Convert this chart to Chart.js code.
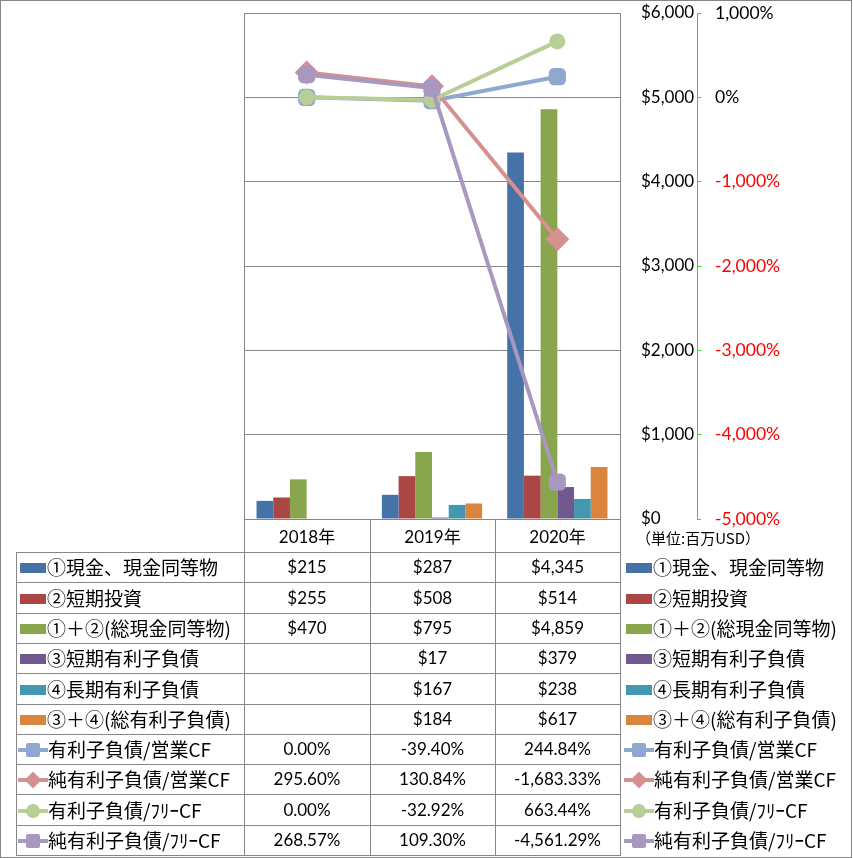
<!DOCTYPE html>
<html><head><meta charset="utf-8">
<script src="https://cdn.jsdelivr.net/npm/chart.js@4"></script>
<style>
html,body{margin:0;padding:0;background:#fff;}
#wrap{position:relative;width:853px;height:858px;overflow:hidden;background:#fff;}
canvas{position:absolute;left:0;top:0;}
.ln{position:absolute;background:#868686;}
.t{position:absolute;white-space:nowrap;line-height:22px;height:22px;color:#000;}
.jp{font-family:"Noto Sans CJK JP","Noto Sans",sans-serif;font-size:19px;}
.num{font-family:Lato,"Noto Sans CJK JP",sans-serif;font-size:17px;text-align:center;}
.key{position:absolute;}
#frame{position:absolute;left:0;top:0;width:850px;height:856px;border:1px solid #868686;pointer-events:none;}
</style></head><body>
<div id="wrap"><canvas id="c" width="853" height="858"></canvas><div id="tbl"></div><div id="frame"></div></div>
<script>
// ---- data ----
const categories = ['2018年', '2019年', '2020年'];
const cashEquivalents = [215, 287, 4345];
const shortTermInvest = [255, 508, 514];
const totalCash = [470, 795, 4859];
const shortTermDebt = [null, 17, 379];
const longTermDebt = [null, 167, 238];
const totalDebt = [null, 184, 617];
const debtToOpCF = [0.00, -39.40, 244.84];
const netDebtToOpCF = [295.60, 130.84, -1683.33];
const debtToFreeCF = [0.00, -32.92, 663.44];
const netDebtToFreeCF = [268.57, 109.30, -4561.29];
const barNames = ['①現金、現金同等物', '②短期投資', '①＋②(総現金同等物)', '③短期有利子負債', '④長期有利子負債', '③＋④(総有利子負債)'];
const lineNames = ['有利子負債/営業CF', '純有利子負債/営業CF', '有利子負債/ﾌﾘｰCF', '純有利子負債/ﾌﾘｰCF'];
const unitLabel = '（単位:百万USD）';

const barColors = ['#4572A7', '#AA4643', '#89A54E', '#71588F', '#4198AF', '#DB843D'];
const lineColors = ['#8FA8D0', '#D49190', '#B8CE95', '#A897BF'];
const lineStyles = ['rectRounded', 'rectRot', 'circle', 'rectRounded'];
const lineRadius = [10, 12, 8, 10];
const barData = [cashEquivalents, shortTermInvest, totalCash, shortTermDebt, longTermDebt, totalDebt];
const lineData = [debtToOpCF, netDebtToOpCF, debtToFreeCF, netDebtToFreeCF];

const datasets = [];
lineData.forEach((d, i) => datasets.push({
  type: 'line', label: lineNames[i], data: d, yAxisID: 'y1',
  borderColor: lineColors[i], backgroundColor: lineColors[i], borderWidth: 4,
  pointStyle: lineStyles[i], pointRadius: lineRadius[i], pointBorderWidth: 0,
  pointBackgroundColor: lineColors[i], order: 4 - i, tension: 0
}));
barData.forEach((d, i) => datasets.push({
  type: 'bar', label: barNames[i], data: d, yAxisID: 'y',
  backgroundColor: barColors[i], borderWidth: 0,
  categoryPercentage: 0.8, barPercentage: 1.0, order: 10
}));

const fmtUSD = v => '$' + Number(v).toLocaleString('en-US');
const fmtPct = v => Number(v).toLocaleString('en-US', {minimumFractionDigits: 2, maximumFractionDigits: 2}) + '%';

const plotBorder = {
  id: 'plotBorder',
  afterDraw(chart) {
    const a = chart.chartArea, ctx = chart.ctx;
    ctx.save();
    ctx.strokeStyle = '#868686'; ctx.lineWidth = 1;
    ctx.beginPath();
    ctx.moveTo(Math.round(a.left) + 0.5, a.top); ctx.lineTo(Math.round(a.left) + 0.5, a.bottom);
    ctx.moveTo(Math.round(a.right) + 0.5, a.top); ctx.lineTo(Math.round(a.right) + 0.5, a.bottom);
    ctx.stroke();
    ctx.restore();
  }
};

Chart.defaults.font.family = 'Lato, "Noto Sans CJK JP", sans-serif';
Chart.defaults.font.size = 17;
Chart.defaults.color = '#000';

const noOverflow = w => s => { s.width = w; s.paddingTop = 0; s.paddingBottom = 0; };

new Chart(document.getElementById('c'), {
  data: {labels: categories, datasets},
  options: {
    responsive: false, animation: false,
    layout: {padding: {left: 244, top: 13, right: 0, bottom: 339}},
    plugins: {legend: {display: false}, tooltip: {enabled: false}},
    scales: {
      x: {display: false, offset: true},
      y: {
        position: 'right', weight: 0, min: 0, max: 6000,
        afterFit: noOverflow(77),
        ticks: {stepSize: 1000, callback: v => fmtUSD(v), crossAlign: 'near', padding: 21},
        grid: {color: '#868686', drawTicks: false, drawOnChartArea: true},
        border: {display: false}
      },
      y1: {
        position: 'right', weight: 1, min: -5000, max: 1000,
        afterFit: noOverflow(156),
        ticks: {stepSize: 1000, callback: v => fmtPct(v).replace('.00', ''), padding: 14,
          font: {size: 17.5},
          color: c => (c.tick && c.tick.value < 0) ? '#FF0000' : '#000'},
        grid: {drawOnChartArea: false, color: '#1EE01E', tickLength: 4, drawTicks: true},
        border: {display: true, color: '#1EE01E', dash: [3, 2], width: 1}
      }
    }
  },
  plugins: [plotBorder]
});

// ---- data table (HTML) ----
const tbl = document.getElementById('tbl');
const colX = [16, 244, 370, 495, 620];
const headTop = 519;
const rowTop = i => 552 + Math.round(i * 30.3);
function add(cls, style, text) {
  const d = document.createElement('div');
  d.className = cls; Object.assign(d.style, style);
  if (text !== undefined) d.textContent = text;
  tbl.appendChild(d); return d;
}
add('ln', {left: colX[1] + 'px', top: headTop + 'px', width: (colX[4] - colX[1] + 1) + 'px', height: '1px'});
for (let i = 0; i <= 10; i++) add('ln', {left: colX[0] + 'px', top: rowTop(i) + 'px', width: (colX[4] - colX[0] + 1) + 'px', height: '1px'});
add('ln', {left: colX[0] + 'px', top: rowTop(0) + 'px', width: '1px', height: (rowTop(10) - rowTop(0) + 1) + 'px'});
for (let c = 1; c <= 4; c++) add('ln', {left: colX[c] + 'px', top: headTop + 'px', width: '1px', height: (rowTop(10) - headTop + 1) + 'px'});
categories.forEach((c, j) => add('t num', {left: colX[j + 1] + 'px', width: (colX[j + 2] - colX[j + 1]) + 'px', top: (Math.round((headTop + rowTop(0)) / 2) - 10) + 'px'}, c));
add('t jp', {left: '636px', top: '527px', fontSize: '15px'}, unitLabel);

function barKey(x, yc, color) {
  add('key', {left: x + 'px', top: (yc - 5) + 'px', width: '26px', height: '10px', background: color});
}
function lineKey(x, yc, color, style) {
  add('key', {left: x + 'px', top: (yc - 2) + 'px', width: '30px', height: '4px', background: color});
  const m = {position: 'absolute', background: color};
  if (style === 'rectRot') Object.assign(m, {left: (x + 9) + 'px', top: (yc - 6) + 'px', width: '12px', height: '12px', transform: 'rotate(45deg)', borderRadius: '1px'});
  else if (style === 'circle') Object.assign(m, {left: (x + 8) + 'px', top: (yc - 7) + 'px', width: '14px', height: '14px', borderRadius: '50%'});
  else Object.assign(m, {left: (x + 8) + 'px', top: (yc - 7) + 'px', width: '14px', height: '14px', borderRadius: '2px'});
  add('key', m);
}
const rows = [];
barData.forEach((d, i) => rows.push({name: barNames[i], vals: d.map(v => v == null ? '' : fmtUSD(v)), kind: 'bar', color: barColors[i]}));
lineData.forEach((d, i) => rows.push({name: lineNames[i], vals: d.map(v => v == null ? '' : fmtPct(v)), kind: 'line', color: lineColors[i], style: lineStyles[i]}));
rows.forEach((r, i) => {
  const yc = Math.round((rowTop(i) + rowTop(i + 1)) / 2) + 1;
  if (r.kind === 'bar') { barKey(20, yc, r.color); barKey(626, yc, r.color); }
  else { lineKey(18, yc, r.color, r.style); lineKey(624, yc, r.color, r.style); }
  add('t jp', {left: (r.kind === 'bar' ? 47 : 48) + 'px', top: (yc - 12) + 'px'}, r.name);
  add('t jp', {left: (r.kind === 'bar' ? 653 : 654) + 'px', top: (yc - 12) + 'px'}, r.name);
  r.vals.forEach((v, j) => add('t num', {left: colX[j + 1] + 'px', width: (colX[j + 2] - colX[j + 1]) + 'px', top: (yc - 12) + 'px'}, v));
});
</script>
</body></html>
